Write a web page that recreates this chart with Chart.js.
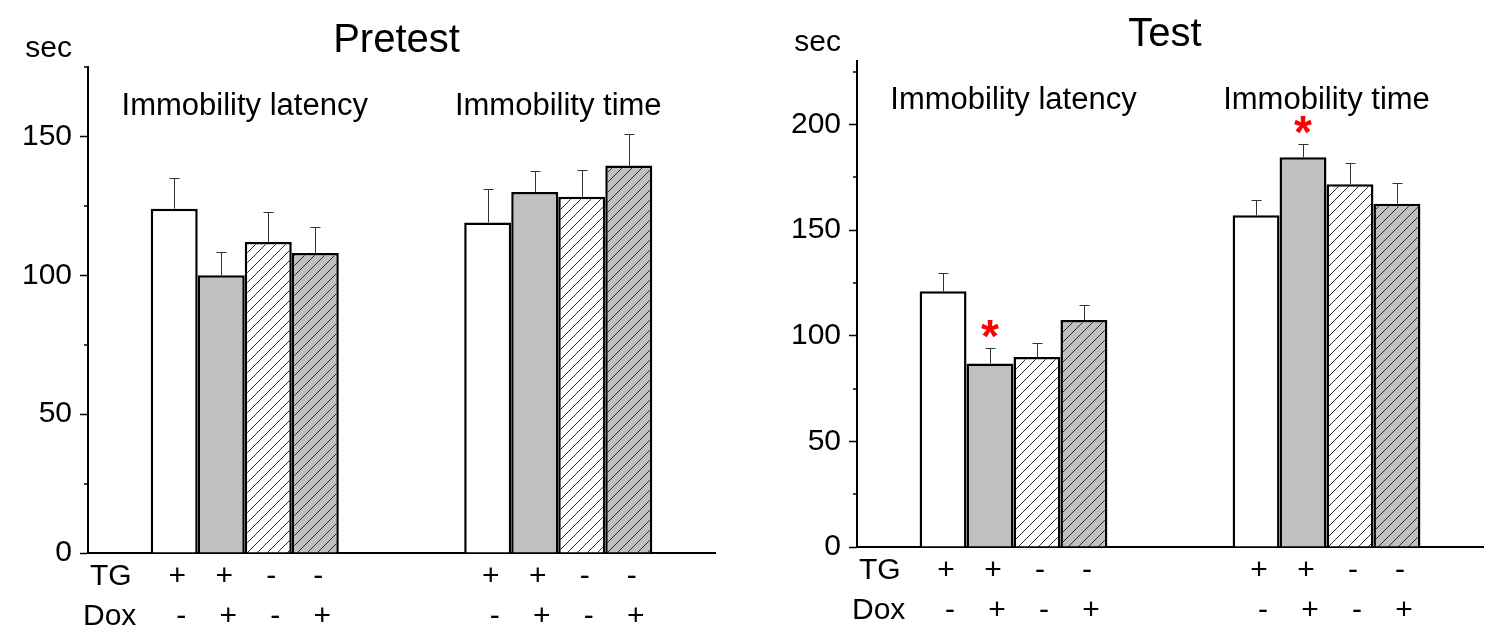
<!DOCTYPE html>
<html><head><meta charset="utf-8">
<script src="https://cdn.jsdelivr.net/npm/chart.js@4"></script>
<style>
html,body{margin:0;padding:0;background:#fff;width:1495px;height:628px;overflow:hidden;}
canvas{position:absolute;top:0;}
#c1{left:0;} #c2{left:745px;}
</style></head><body>
<canvas id="c1" width="745" height="628" style="width:745px;height:628px"></canvas>
<canvas id="c2" width="750" height="628" style="width:750px;height:628px"></canvas>
<script>
// ---------- data ----------
const groups = ['Immobility latency', 'Immobility time'];
const conditions = ['TG+ Dox-', 'TG+ Dox+', 'TG- Dox-', 'TG- Dox+'];
const tgSigns = ['+', '+', '-', '-'];
const doxSigns = ['-', '+', '-', '+'];

const pretestLatency = [124, 100, 112, 108];
const pretestLatencySem = [11, 8.3, 10.7, 9.3];
const pretestTime = [119, 130, 128.3, 139.5];
const pretestTimeSem = [12, 7.5, 9.6, 11.5];
const pretestLatencySig = [false, false, false, false];
const pretestTimeSig = [false, false, false, false];

const testLatency = [121, 86.8, 89.9, 107.4];
const testLatencySem = [8.7, 7.2, 6.5, 7.3];
const testTime = [157, 184.4, 171.7, 162.5];
const testTimeSem = [7.2, 6.5, 10.2, 9.8];
const testLatencySig = [false, true, false, false];
const testTimeSig = [false, true, false, false];

const pretestMajorTicks = [0, 50, 100, 150];
const pretestMinorTicks = [25, 75, 125, 175];
const pretestMax = 175;
const testMajorTicks = [0, 50, 100, 150, 200];
const testMinorTicks = [25, 75, 125, 175, 225];
const testMax = 230;

// ---------- helpers ----------
const FAMILY = '"Liberation Sans", Arial, Helvetica, sans-serif';
const GRAY = '#c0c0c0';

function hatch(ctx, bg) {
  const s = 10;
  const c = document.createElement('canvas');
  c.width = s; c.height = s;
  const x = c.getContext('2d');
  x.fillStyle = bg; x.fillRect(0, 0, s, s);
  x.strokeStyle = '#2a2a2a'; x.lineWidth = 1;
  x.beginPath();
  x.moveTo(0, s); x.lineTo(s, 0);
  x.moveTo(-1, 1); x.lineTo(1, -1);
  x.moveTo(s - 1, s + 1); x.lineTo(s + 1, s - 1);
  x.stroke();
  return ctx.createPattern(c, 'repeat');
}

const annotate = {
  id: 'annotate',
  afterDatasetsDraw(chart) {
    const ctx = chart.ctx, y = chart.scales.y, a = chart.chartArea;
    const o = chart.options.plugins.annotate;
    ctx.save();
    // error bars + significance
    chart.data.datasets.forEach((ds, i) => {
      const meta = chart.getDatasetMeta(i);
      meta.data.forEach((el, j) => {
        const v = ds.data[j], e = ds.sem[j];
        const yTop = y.getPixelForValue(v + e);
        const x0 = Math.round(el.x) + 0.5;
        ctx.strokeStyle = '#333'; ctx.lineWidth = 1;
        ctx.beginPath();
        ctx.moveTo(x0, el.y); ctx.lineTo(x0, Math.round(yTop) + 0.5);
        ctx.moveTo(x0 - 5, Math.round(yTop) + 0.5); ctx.lineTo(x0 + 5, Math.round(yTop) + 0.5);
        ctx.stroke();
        if (ds.sig[j]) {
          ctx.fillStyle = '#ff0000';
          ctx.font = 'bold 46px ' + FAMILY;
          ctx.textAlign = 'center'; ctx.textBaseline = 'alphabetic';
          const m = ctx.measureText('*');
          const cy = yTop - 19;
          ctx.fillText('*', el.x, cy + (m.actualBoundingBoxAscent - m.actualBoundingBoxDescent) / 2);
        }
      });
    });
    // minor ticks
    ctx.strokeStyle = '#000'; ctx.lineWidth = 1.5;
    o.minor.forEach(v => {
      const py = Math.round(y.getPixelForValue(v));
      ctx.beginPath(); ctx.moveTo(a.left - 4, py); ctx.lineTo(a.left, py); ctx.stroke();
    });
    // texts
    ctx.fillStyle = '#000'; ctx.textBaseline = 'alphabetic';
    ctx.font = '40px ' + FAMILY; ctx.textAlign = 'center';
    ctx.fillText(o.title, (a.left + a.right) / 2 - 5, a.top - 15);
    ctx.font = '30px ' + FAMILY; ctx.textAlign = 'right';
    ctx.fillText('sec', a.left - 16, a.top - 10);
    ctx.font = '31px ' + FAMILY; ctx.textAlign = 'center';
    groups.forEach((g, j) => ctx.fillText(g, chart.scales.x.getPixelForValue(j), a.top + 48));
    ctx.font = '30px ' + FAMILY; ctx.textAlign = 'left';
    ctx.fillText('TG', a.left + 2, a.bottom + 32);
    ctx.fillText('Dox', a.left - 5, a.bottom + 72);
    ctx.textAlign = 'center';
    chart.data.datasets.forEach((ds, i) => {
      chart.getDatasetMeta(i).data.forEach(el => {
        ctx.fillText(tgSigns[i], el.x + 3, a.bottom + 32);
        ctx.fillText(doxSigns[i], el.x + 7, a.bottom + 72);
      });
    });
    ctx.restore();
  }
};

function makeChart(id, cfg) {
  const canvas = document.getElementById(id);
  const ctx = canvas.getContext('2d');
  const fills = ['#ffffff', GRAY, hatch(ctx, '#ffffff'), hatch(ctx, GRAY)];
  const datasets = conditions.map((name, i) => ({
    label: name,
    data: [cfg.latency[i], cfg.time[i]],
    sem: [cfg.latencySem[i], cfg.timeSem[i]],
    sig: [cfg.latencySig[i], cfg.timeSig[i]],
    backgroundColor: fills[i],
    borderColor: '#000',
    borderWidth: 2.5,
    borderSkipped: 'bottom',
    categoryPercentage: 0.6,
    barPercentage: 1
  }));
  return new Chart(ctx, {
    type: 'bar',
    data: { labels: groups, datasets },
    plugins: [annotate],
    options: {
      responsive: false, animation: false, devicePixelRatio: 1,
      layout: { padding: cfg.padding },
      plugins: {
        legend: { display: false }, tooltip: { enabled: false }, title: { display: false },
        annotate: { title: cfg.title, minor: cfg.minor }
      },
      scales: {
        x: {
          type: 'category', offset: true,
          grid: { display: false, drawTicks: false },
          ticks: { display: false },
          border: { display: true, color: '#000', width: 2 },
          afterFit(s) { s.height = 0; }
        },
        y: {
          type: 'linear', min: 0, max: cfg.max,
          afterBuildTicks(s) { s.ticks = cfg.major.map(v => ({ value: v })); },
          ticks: { font: { family: FAMILY, size: 30 }, color: '#000', padding: 8 },
          grid: { drawOnChartArea: false, drawTicks: true, tickLength: 8, tickWidth: 1.5, tickColor: '#000' },
          border: { display: true, color: '#000', width: 2 },
          afterFit(s) { s.width = cfg.axisLeft; }
        }
      }
    }
  });
}

makeChart('c1', {
  title: 'Pretest',
  latency: pretestLatency, latencySem: pretestLatencySem, latencySig: pretestLatencySig,
  time: pretestTime, timeSem: pretestTimeSem, timeSig: pretestTimeSig,
  major: pretestMajorTicks, minor: pretestMinorTicks, max: pretestMax,
  axisLeft: 88,
  padding: { left: 0, top: 67, right: 30, bottom: 75 }
});
makeChart('c2', {
  title: 'Test',
  latency: testLatency, latencySem: testLatencySem, latencySig: testLatencySig,
  time: testTime, timeSem: testTimeSem, timeSig: testTimeSig,
  major: testMajorTicks, minor: testMinorTicks, max: testMax,
  axisLeft: 112,
  padding: { left: 0, top: 61, right: 12, bottom: 81 }
});
</script>
</body></html>
